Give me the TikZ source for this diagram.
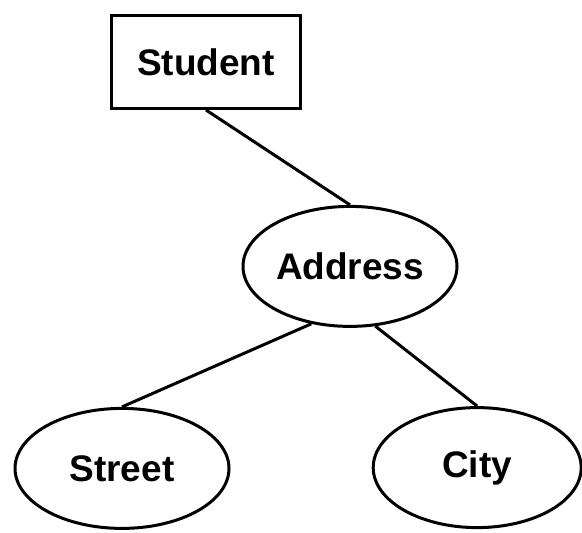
\documentclass[tikz,border=0pt]{standalone}
\usepackage{fontspec}
\setmainfont{Liberation Sans}
\usetikzlibrary{shapes.geometric}
\begin{document}
\begin{tikzpicture}[line width=0.075cm,
        every node/.style={font=\bfseries\fontsize{26.3}{30}\selectfont},
        entity/.style={draw,rectangle,minimum width=4.725cm,minimum height=2.325cm},
        attr/.style={draw,ellipse,inner sep=0pt,minimum width=5.35cm,minimum height=3cm}]
        \useasboundingbox (0,0) rectangle (14.55,13.3);
        \node[entity] (student) at (5.15,11.75) {Student};
        \node[attr] (address) at (8.75,6.64) {Address};
        \node[attr] (street) at (3.05,1.59) {Street};
        \node[attr,minimum width=5.2cm] (city) at (11.93,1.61) {City};
        \draw (student.south) -- (address.north);
        \draw (address.236) -- (street.north);
        \draw (address.293) -- (city.north);
    \end{tikzpicture}
\end{document}
